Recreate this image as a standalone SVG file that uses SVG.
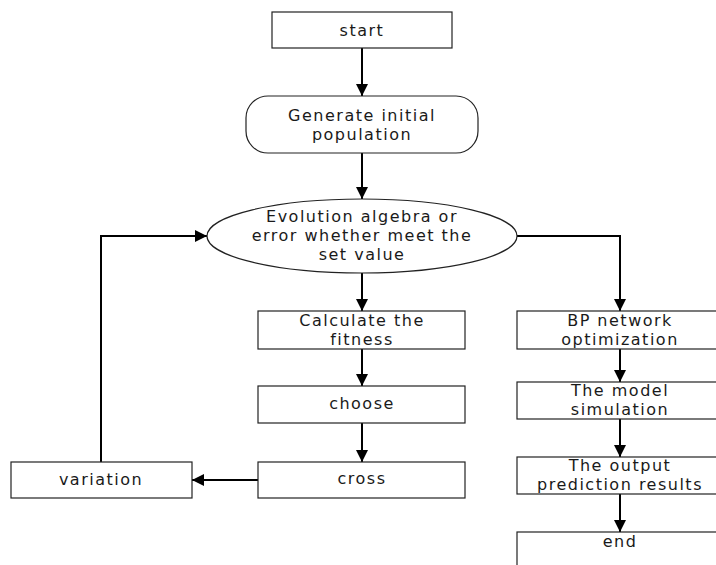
<svg xmlns="http://www.w3.org/2000/svg" width="716" height="565" viewBox="0 0 716 565">
<defs>
<marker id="ah" markerWidth="12" markerHeight="12" viewBox="0 0 12 12" refX="12" refY="6" orient="auto" markerUnits="userSpaceOnUse">
<path d="M0,0 L12,6 L0,12 Z" fill="#000"/>
</marker>
</defs>
<style>
.box{fill:#fff;stroke:#222;stroke-width:1.2}
.t{font-family:"DejaVu Sans",Verdana,sans-serif;font-size:16px;letter-spacing:1.5px;fill:#1a1a1a;text-anchor:middle}
.c{fill:none;stroke:#000;stroke-width:2}
</style>
<rect width="716" height="565" fill="#fff"/>
<g id="connectors">
<path class="c" d="M362,48 V96" marker-end="url(#ah)"/>
<path class="c" d="M362,153 V199" marker-end="url(#ah)"/>
<path class="c" d="M362,273 V311" marker-end="url(#ah)"/>
<path class="c" d="M362,349 V386" marker-end="url(#ah)"/>
<path class="c" d="M362,423 V462" marker-end="url(#ah)"/>
<path class="c" d="M258,480 H192" marker-end="url(#ah)"/>
<path class="c" d="M101,462 V236 H207" marker-end="url(#ah)"/>
<path class="c" d="M517,236 H620 V311" marker-end="url(#ah)"/>
<path class="c" d="M620,349 V382" marker-end="url(#ah)"/>
<path class="c" d="M620,419 V457" marker-end="url(#ah)"/>
<path class="c" d="M620,494 V532" marker-end="url(#ah)"/>
</g>
<g id="start"><rect class="box" x="272" y="12" width="180" height="36"/><text class="t" x="362" y="36">start</text></g>
<g id="generate"><rect class="box" x="246" y="96" width="232" height="57" rx="22"/><text class="t" x="362" y="121">Generate initial</text><text class="t" x="362" y="140">population</text></g>
<g id="evolution"><ellipse class="box" cx="362" cy="236" rx="155" ry="37"/><text class="t" x="362" y="222">Evolution algebra or</text><text class="t" x="362" y="241">error whether meet the</text><text class="t" x="362" y="260">set value</text></g>
<g id="fitness"><rect class="box" x="258" y="311" width="207" height="38"/><text class="t" x="362" y="326">Calculate the</text><text class="t" x="362" y="345">fitness</text></g>
<g id="choose"><rect class="box" x="258" y="386" width="207" height="37"/><text class="t" x="362" y="409">choose</text></g>
<g id="cross"><rect class="box" x="258" y="462" width="207" height="36"/><text class="t" x="362" y="484">cross</text></g>
<g id="variation"><rect class="box" x="11" y="462" width="181" height="36"/><text class="t" x="101" y="485">variation</text></g>
<g id="bp"><rect class="box" x="517" y="311" width="206" height="38"/><text class="t" x="620" y="326">BP network</text><text class="t" x="620" y="345">optimization</text></g>
<g id="model"><rect class="box" x="517" y="382" width="206" height="37"/><text class="t" x="620" y="396">The model</text><text class="t" x="620" y="415">simulation</text></g>
<g id="output"><rect class="box" x="517" y="457" width="206" height="37"/><text class="t" x="620" y="471">The output</text><text class="t" x="620" y="490">prediction results</text></g>
<g id="end"><rect class="box" x="517" y="532" width="206" height="40"/><text class="t" x="620" y="547">end</text></g>
</svg>
